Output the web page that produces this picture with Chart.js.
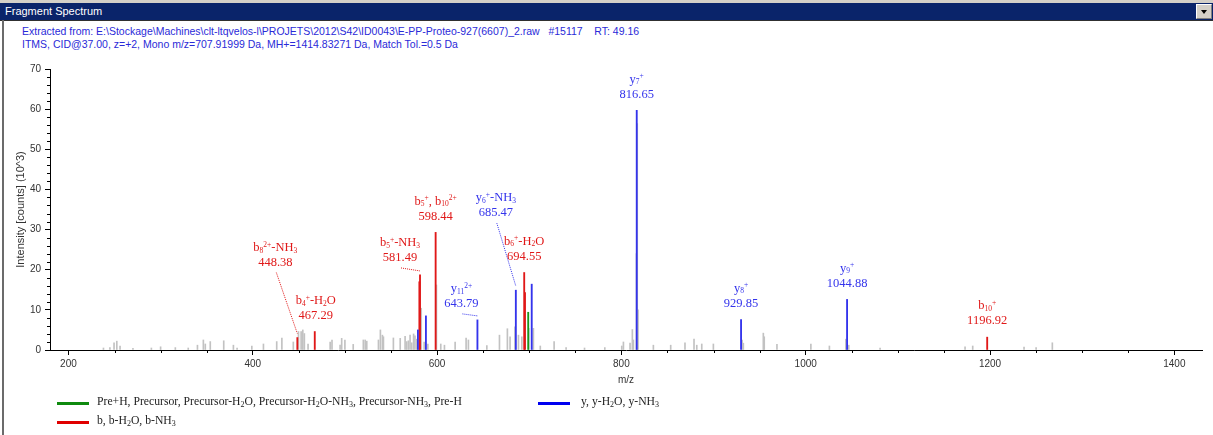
<!DOCTYPE html>
<html>
<head>
<meta charset="utf-8">
<script src="https://cdn.jsdelivr.net/npm/chart.js@4.4.1/dist/chart.umd.min.js"></script>
<style>
  html, body { margin: 0; padding: 0; background: #fff; }
  body { width: 1213px; height: 435px; position: relative; overflow: hidden; font-family: 'Liberation Sans', Arial, sans-serif; }
  #strip { position: absolute; left: 0; top: 0; width: 1213px; height: 3px; background: #d4d0c8; }
  #titlebar { position: absolute; left: 0; top: 3px; width: 1213px; height: 17px; background: #0a246a; color: #fff; font-size: 11px; line-height: 17px; }
  #titlebar span { position: absolute; left: 5px; }
  #dropbtn { position: absolute; left: 1196px; top: 4px; width: 16px; height: 15px; background: #d4d0c8; box-sizing: border-box; border: 1px solid #fff; border-right-color: #808080; border-bottom-color: #808080; }
  #dropbtn i { position: absolute; left: 4px; top: 5px; width: 0; height: 0; border-left: 3.5px solid transparent; border-right: 3.5px solid transparent; border-top: 4px solid #000; }
  #frame { position: absolute; left: 2px; top: 20px; width: 2px; height: 415px; background: #6b6b6b; }
  #topline { position: absolute; left: 0; top: 20px; width: 1213px; height: 1px; background: #303030; }
  #header { position: absolute; left: 22px; top: 25px; color: #2a2ad8; font-size: 10.5px; line-height: 13px; white-space: pre; }
  canvas { position: absolute; left: 0; top: 0; }
  .sw { position: absolute; width: 32px; height: 3px; }
  .lt { position: absolute; font-family: 'Liberation Serif', serif; font-size: 11.7px; color: #222; white-space: nowrap; }
  .lt sub { font-size: 8px; vertical-align: -2px; line-height: 0; }
</style>
</head>
<body>
<div id="strip"></div>
<div id="titlebar"><span>Fragment Spectrum</span></div>
<div id="dropbtn"><i></i></div>
<div id="topline"></div>
<div id="frame"></div>
<div id="header">Extracted from: E:\Stockage\Machines\clt-ltqvelos-l\PROJETS\2012\S42\ID0043\E-PP-Proteo-927(6607)_2.raw   #15117    RT: 49.16
ITMS, CID@37.00, z=+2, Mono m/z=707.91999 Da, MH+=1414.83271 Da, Match Tol.=0.5 Da</div>
<canvas id="spectrum" width="1213" height="435"></canvas>
<div class="sw" style="left:57px;top:402px;background:#0f8a0f"></div>
<div class="lt" style="left:97px;top:395px">Pre+H, Precursor, Precursor-H<sub>2</sub>O, Precursor-H<sub>2</sub>O-NH<sub>3</sub>, Precursor-NH<sub>3</sub>, Pre-H</div>
<div class="sw" style="left:538px;top:402px;background:#0000f0"></div>
<div class="lt" style="left:581px;top:395px">y, y-H<sub>2</sub>O, y-NH<sub>3</sub></div>
<div class="sw" style="left:57px;top:421px;background:#e00000"></div>
<div class="lt" style="left:97px;top:414px">b, b-H<sub>2</sub>O, b-NH<sub>3</sub></div>
<script>
// m/z axis range and tick values
const xMin = 180;
const xMax = 1430;
const xMajorTicks = [200, 400, 600, 800, 1000, 1200, 1400];
const yMajorTicks = [0, 10, 20, 30, 40, 50, 60, 70];

// matched y ions
const yIonMz = [579.2, 587.9, 643.79, 685.47, 702.7, 816.65, 929.85, 1044.88];
const yIonInt = [5.0, 8.5, 7.5, 14.9, 16.4, 59.7, 7.6, 12.6];

// matched b ions
const bIonMz = [448.38, 467.29, 580.8, 581.49, 598.44, 694.55, 695.4, 1196.92];
const bIonInt = [3.1, 4.6, 17.0, 18.7, 29.3, 19.3, 14.3, 3.2];

// precursor
const preMz = [698.9];
const preInt = [9.4];

// unmatched peaks
const otherMz = [238, 245, 249.5, 252.5, 256, 270, 290, 300, 316, 330, 340, 346.4, 348.5, 353.9, 368.5, 379, 383,
  399, 411.6, 426, 431.6, 444, 449.6, 452.5, 454.3, 456, 460, 484, 486, 494.8, 496.5, 500, 509, 520, 522, 523.7,
  536.4, 538.5, 540.7, 541.8, 552.6, 560, 565.3, 567, 568.9, 570.7, 572.5, 574.5, 576, 578, 582.8, 586, 590,
  599.3, 604, 608, 619.6, 631.5, 634, 654, 667.7, 676.3, 679.2, 684.5, 688.3, 692, 699.6, 704.5, 712, 727, 740,
  760, 782, 800.4, 802.2, 809.4, 811.9, 813, 816.3, 817.2, 818.1, 834.7, 853.5, 869, 878.8, 881.8, 887.2, 899.8,
  931, 932.3, 954, 955, 968.8, 1005.6, 1025.7, 1043.5, 1046.7, 1080.7, 1172.9, 1181.2, 1236.9, 1250, 1267.6];
const otherInt = [0.5, 0.6, 1.8, 2.2, 1.0, 0.4, 0.5, 0.8, 0.6, 0.5, 1.2, 2.5, 1.5, 2.1, 2.3, 1.2, 0.5,
  1.0, 1.5, 2.1, 3.0, 2.0, 4.6, 4.6, 5.0, 4.1, 1.5, 2.0, 2.5, 1.2, 2.9, 2.5, 1.4, 2.5, 2.5, 2.2,
  2.5, 5.0, 3.7, 3.3, 3.0, 2.9, 3.4, 2.1, 2.3, 3.7, 1.8, 4.0, 3.5, 2.7, 10.4, 2.0, 1.5,
  16.2, 1.5, 1.2, 2.0, 3.0, 2.5, 1.1, 3.7, 5.3, 3.3, 5.8, 3.7, 3.3, 5.4, 5.4, 1.0, 2.1, 0.6,
  0.5, 0.6, 1.0, 2.0, 1.7, 5.1, 2.5, 24.0, 56.4, 10.0, 1.2, 1.2, 1.8, 2.7, 1.2, 1.5, 1.5,
  2.5, 1.7, 4.2, 3.3, 1.4, 1.5, 1.0, 2.7, 1.2, 0.5, 0.8, 1.0, 0.7, 0.6, 1.8];

const RED = '#e01818';
const BLUE = '#3434ec';
const GREEN = '#1c961c';
const GREY = '#c2c2c2';

// annotated peaks: text, where to put it relative to the peak (px), leader line or not
const peakLabels = [
  { mz: 448.38, ion: 'b_{8}^{2+}-NH_{3}', color: RED, dx: -22, lift: 59, leader: true },
  { mz: 467.29, ion: 'b_{4}^{+}-H_{2}O', color: RED, dx: 1, lift: 0 },
  { mz: 581.49, ion: 'b_{5}^{+}-NH_{3}', color: RED, dx: -20, lift: 1, leader: true },
  { mz: 598.44, ion: 'b_{5}^{+}, b_{10}^{2+}', color: RED, dx: 0, lift: 0 },
  { mz: 643.79, ion: 'y_{11}^{2+}', color: BLUE, dx: -16, lift: 0, leader: true },
  { mz: 685.47, ion: 'y_{6}^{+}-NH_{3}', color: BLUE, dx: -20, lift: 61, leader: true },
  { mz: 694.55, ion: 'b_{6}^{+}-H_{2}O', color: RED, dx: 0, lift: 0 },
  { mz: 816.65, ion: 'y_{7}^{+}', color: BLUE, dx: 0, lift: 0 },
  { mz: 929.85, ion: 'y_{8}^{+}', color: BLUE, dx: 0, lift: 0 },
  { mz: 1044.88, ion: 'y_{9}^{+}', color: BLUE, dx: 0, lift: 0 },
  { mz: 1196.92, ion: 'b_{10}^{+}', color: RED, dx: 0, lift: 0 },
];

function toPoints(mz, inten) {
  return mz.map((m, i) => ({ x: m, y: inten[i] }));
}

function intensityAt(mz) {
  let i = yIonMz.indexOf(mz);
  if (i >= 0) return yIonInt[i];
  i = bIonMz.indexOf(mz);
  return bIonInt[i];
}

// split 'b_{5}^{+}' into runs of normal / sub / sup text
function splitIon(text) {
  const parts = [];
  const re = /([_^])\{([^}]*)\}|([^_^]+)/g;
  let m;
  while ((m = re.exec(text))) {
    if (m[3]) parts.push({ t: m[3], k: 'n' });
    else parts.push({ t: m[2], k: m[1] === '_' ? 'sub' : 'sup' });
  }
  return parts;
}

const BASE_FONT = "12.5px 'Liberation Serif', serif";
const SMALL_FONT = "7.5px 'Liberation Serif', serif";

function drawIon(ctx, text, cx, cy) {
  const parts = splitIon(text);
  let total = 0;
  parts.forEach((p) => {
    ctx.font = p.k === 'n' ? BASE_FONT : SMALL_FONT;
    p.w = ctx.measureText(p.t).width;
    total += p.w;
  });
  let x = cx - total / 2;
  parts.forEach((p) => {
    ctx.font = p.k === 'n' ? BASE_FONT : SMALL_FONT;
    const off = p.k === 'sub' ? 3 : p.k === 'sup' ? -3 : 0;
    ctx.fillText(p.t, x, cy + off);
    x += p.w;
  });
}

const peakLabelPlugin = {
  id: 'peakLabels',
  afterDatasetsDraw(chart) {
    const { ctx, scales } = chart;
    ctx.save();
    ctx.textBaseline = 'middle';
    ctx.textAlign = 'left';
    peakLabels.forEach((lab) => {
      const px = scales.x.getPixelForValue(lab.mz);
      const py = scales.y.getPixelForValue(intensityAt(lab.mz));
      const cx = px + lab.dx;
      const mzY = py - 16 - lab.lift;
      ctx.fillStyle = lab.color;
      drawIon(ctx, lab.ion, cx, mzY - 15);
      ctx.font = BASE_FONT;
      ctx.textAlign = 'center';
      ctx.fillText(lab.mz.toFixed(2), cx, mzY);
      ctx.textAlign = 'left';
      if (lab.leader) {
        ctx.strokeStyle = lab.color;
        ctx.lineWidth = 1;
        ctx.setLineDash([1, 1]);
        ctx.beginPath();
        ctx.moveTo(cx + 1, mzY + 10);
        ctx.lineTo(px, py - 4);
        ctx.stroke();
        ctx.setLineDash([]);
      }
    });
    ctx.restore();
  },
};

// short minor tick marks between the labelled ones
const minorTickPlugin = {
  id: 'minorTicks',
  afterDraw(chart) {
    const { ctx, scales, chartArea } = chart;
    ctx.save();
    ctx.strokeStyle = '#000';
    ctx.lineWidth = 1;
    ctx.beginPath();
    for (let v = 250; v <= 1400; v += 50) {
      if (v % 200 === 0) continue;
      const x = Math.round(scales.x.getPixelForValue(v)) + 0.5;
      ctx.moveTo(x, chartArea.bottom);
      ctx.lineTo(x, chartArea.bottom + 3);
    }
    for (let v = 2; v < 70; v += 2) {
      if (v % 10 === 0) continue;
      const y = Math.round(scales.y.getPixelForValue(v)) + 0.5;
      ctx.moveTo(chartArea.left, y);
      ctx.lineTo(chartArea.left - 3, y);
    }
    ctx.stroke();
    ctx.restore();
  },
};

function peakSet(label, mz, inten, color, thick) {
  return {
    label,
    data: toPoints(mz, inten),
    backgroundColor: color,
    borderWidth: 0,
    barThickness: thick,
    grouped: false,
  };
}

const tickFont = { family: "'Liberation Sans', Arial, sans-serif", size: 10 };

new Chart(document.getElementById('spectrum'), {
  type: 'bar',
  data: {
    datasets: [
      peakSet('y', yIonMz, yIonInt, BLUE, 1.2),
      peakSet('b', bIonMz, bIonInt, RED, 1.2),
      peakSet('Precursor', preMz, preInt, GREEN, 1.2),
      peakSet('other', otherMz, otherInt, GREY, 1),
    ],
  },
  options: {
    responsive: false,
    animation: false,
    layout: { padding: { left: 0, top: 69, right: 11, bottom: 45 } },
    plugins: { legend: { display: false }, tooltip: { enabled: false } },
    scales: {
      x: {
        type: 'linear',
        offset: false,
        min: xMin,
        max: xMax,
        afterBuildTicks: (s) => { s.ticks = xMajorTicks.map((v) => ({ value: v })); },
        afterFit: (s) => { s.height = 40; },
        ticks: { autoSkip: false, maxRotation: 0, padding: 3, color: '#333', font: tickFont, callback: (v) => String(v) },
        grid: { drawOnChartArea: false, offset: false, tickLength: 5, tickColor: '#000' },
        border: { color: '#000' },
        title: { display: true, text: 'm/z', color: '#333', font: tickFont, padding: { top: 0, bottom: 4 } },
      },
      y: {
        min: 0,
        max: 70,
        afterBuildTicks: (s) => { s.ticks = yMajorTicks.map((v) => ({ value: v })); },
        afterFit: (s) => { s.width = 50; },
        ticks: { padding: 4, color: '#333', font: tickFont },
        grid: { drawOnChartArea: false, tickLength: 5, tickColor: '#000' },
        border: { color: '#000' },
        title: { display: true, text: 'Intensity [counts] (10^3)', color: '#333', font: { family: "'Liberation Sans', Arial, sans-serif", size: 11 }, padding: { top: 14, bottom: 0 } },
      },
    },
  },
  plugins: [peakLabelPlugin, minorTickPlugin],
});
</script>
</body>
</html>
